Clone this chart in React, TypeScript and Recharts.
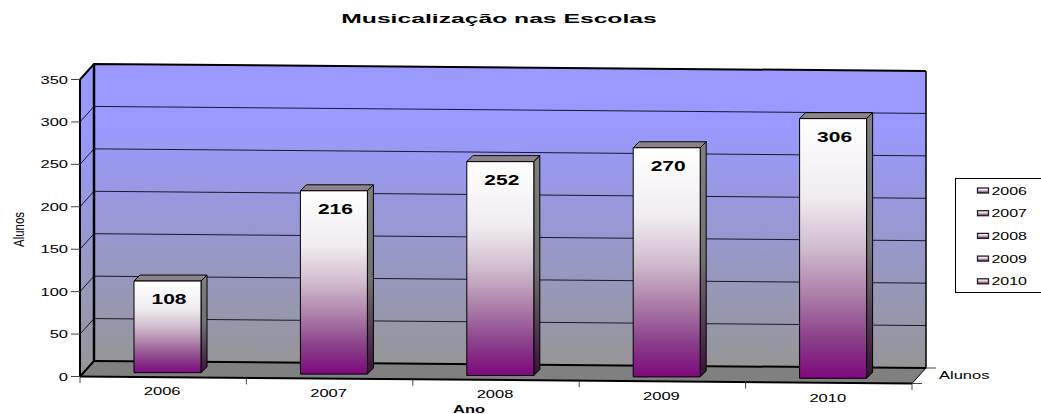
import React from "react";
import { BarChart, Bar, XAxis, YAxis, Legend, LabelList, Customized } from "recharts";

const categories = ["2006", "2007", "2008", "2009", "2010"];
const alunos = [108, 216, 252, 270, 306];
const yTicks = [0, 50, 100, 150, 200, 250, 300, 350];
const title = "Musicalização nas Escolas";
const xTitle = "Ano";
const yTitle = "Alunos";
const zLabel = "Alunos";

const data = categories.map((ano, i) => ({ ano, alunos: alunos[i] }));

const W = 1041, H = 414;
const L = 80, R = 912, T = 79.5, B = 376.5;
const DX = 14, DY = 15.5; // wall depth
const SK = 7 / 832; // perspective skew
const BAR_OFF = 4; // bars sit mid-floor
const BAR_D = 6;
const FONT = "'Liberation Sans', Arial, sans-serif";
const skew = (x: number) => (x - L) * SK;
const yOf = (v: number) => B - (v / 350) * (B - T);

const Stretched = ({ x, y, size, bold, sx = 1.5, anchor = "middle", children }: any) => (
  <text
    transform={`translate(${x},${y}) scale(${sx},1)`}
    textAnchor={anchor}
    fontFamily={FONT}
    fontSize={size}
    fontWeight={bold ? 700 : 400}
    fill="#000"
  >
    {children}
  </text>
);

const Defs = () => (
  <defs>
    <linearGradient id="wall" x1="0" y1="0" x2="0" y2="1">
      <stop offset="0" stopColor="#9999ff" />
      <stop offset="0.2" stopColor="#9999ff" />
      <stop offset="1" stopColor="#969696" />
    </linearGradient>
    <linearGradient id="face" x1="0" y1="0" x2="0" y2="1">
      <stop offset="0" stopColor="#ffffff" />
      <stop offset="0.3" stopColor="#f0ecf0" />
      <stop offset="0.5" stopColor="#d0bccc" />
      <stop offset="0.7" stopColor="#a877a5" />
      <stop offset="0.85" stopColor="#8a3f8a" />
      <stop offset="1" stopColor="#7e087e" />
    </linearGradient>
    <linearGradient id="side" x1="0" y1="0" x2="0" y2="1">
      <stop offset="0" stopColor="#808080" />
      <stop offset="0.5" stopColor="#707070" />
      <stop offset="1" stopColor="#3a103a" />
    </linearGradient>
    <linearGradient id="topf" x1="0" y1="0" x2="0" y2="1">
      <stop offset="0" stopColor="#8c8c8c" />
      <stop offset="0.6" stopColor="#8c8088" />
      <stop offset="1" stopColor="#9c7a9c" />
    </linearGradient>
  </defs>
);

const Walls = () => {
  const pts = (a: number[][]) => a.map((p) => p.join(",")).join(" ");
  const bl = [L + DX, B - DY];
  const tl = [L + DX, T - DY];
  const br = [R + DX, B - DY + (R - L) * SK];
  const tr = [R + DX, T - DY + (R - L) * SK];
  const fr = [R, B + (R - L) * SK];
  return (
    <g>
      <Defs />
      <polygon points={pts([bl, br, fr, [L, B]])} fill="#808080" />
      <polygon points={pts([[L, T], tl, bl, [L, B]])} fill="url(#wall)" />
      <polygon points={pts([tl, tr, br, bl])} fill="url(#wall)" />
      {yTicks.slice(1, -1).map((v) => {
        const y = yOf(v);
        return (
          <g key={v} stroke="#1a1a2a" strokeWidth={1} fill="none">
            <line x1={L} y1={y} x2={L + DX} y2={y - DY} />
            <line x1={L + DX} y1={y - DY} x2={R + DX} y2={y - DY + (R - L) * SK} />
          </g>
        );
      })}
      <g stroke="#000" fill="none">
        <polyline points={pts([[L, T], tl, tr])} strokeWidth={2} />
        <line x1={tr[0]} y1={tr[1]} x2={br[0]} y2={br[1]} strokeWidth={1.5} />
        <line x1={tl[0]} y1={tl[1]} x2={bl[0]} y2={bl[1]} strokeWidth={2.5} />
        <line x1={bl[0]} y1={bl[1]} x2={br[0]} y2={br[1]} strokeWidth={2} />
        <line x1={L} y1={B} x2={bl[0]} y2={bl[1]} strokeWidth={2} />
        <line x1={br[0]} y1={br[1]} x2={fr[0]} y2={fr[1]} strokeWidth={1} />
        <line x1={L} y1={B} x2={fr[0]} y2={fr[1]} strokeWidth={2} />
      </g>
      <g stroke="#444" strokeWidth={1}>
        {[0, 1, 2, 3, 4, 5].map((i) => {
          const x = L + (i * (R - L)) / 5;
          return <line key={i} x1={x} y1={B + skew(x)} x2={x} y2={B + skew(x) + 6.5} />;
        })}
        <line x1={fr[0]} y1={fr[1]} x2={fr[0] + 10} y2={fr[1]} />
        <line x1={br[0]} y1={br[1]} x2={br[0] + 10} y2={br[1]} />
      </g>
      <Stretched x={939} y={379} size={11} sx={1.5} anchor="start">{zLabel}</Stretched>
      <Stretched x={499} y={23} size={13} bold sx={1.9}>{title}</Stretched>
      <Stretched x={469} y={412.5} size={11} bold sx={1.5}>{xTitle}</Stretched>
      <text
        transform={`translate(24,229.5) rotate(-90) scale(1.04,1.35)`}
        textAnchor="middle"
        fontFamily={FONT}
        fontSize={11}
        fill="#000"
      >
        {yTitle}
      </text>
    </g>
  );
};

const Bar3D = (props: any) => {
  const { x, y, width: w, height: h } = props;
  const dy = skew(x + w / 2) - BAR_OFF - 0.5;
  const X = x + BAR_OFF;
  const Y = y + dy;
  const D = BAR_D;
  const pts = (a: number[][]) => a.map((p) => p.join(",")).join(" ");
  return (
    <g stroke="#000" strokeWidth={1} strokeLinejoin="round">
      <polygon points={pts([[X, Y], [X + D, Y - D], [X + w + D, Y - D], [X + w, Y]])} fill="url(#topf)" />
      <polygon points={pts([[X + w, Y], [X + w + D, Y - D], [X + w + D, Y + h - D], [X + w, Y + h]])} fill="url(#side)" />
      <rect x={X} y={Y} width={w} height={h} fill="url(#face)" />
    </g>
  );
};

const ValueLabel = (props: any) => {
  const { x, y, width: w, value } = props;
  const cx = x + w / 2;
  return (
    <Stretched x={cx + BAR_OFF + 1.5} y={y + skew(cx) - BAR_OFF + 22.5} size={14} bold sx={1.5}>
      {value}
    </Stretched>
  );
};

const XTick = (props: any) => {
  const { x, payload } = props;
  const cx = x - 1;
  return (
    <Stretched x={cx} y={395 + (cx - 162) * 0.0105} size={11}>
      {payload.value}
    </Stretched>
  );
};

const YTick = (props: any) => {
  const { x, y, payload } = props;
  return (
    <Stretched x={x + 0} y={y + 4} size={11} anchor="end">
      {payload.value}
    </Stretched>
  );
};

const LegendBox = () => (
  <svg width={86} height={115} style={{ display: "block" }}>
    <rect x={0.5} y={0.5} width={87} height={114} fill="#fff" stroke="#000" strokeWidth={1} />
    {categories.map((c, i) => {
      const cy = 12.5 + i * 22.7;
      return (
        <g key={c}>
          <rect x={22.5} y={cy - 2.5} width={11} height={5} fill="url(#face)" stroke="#222" strokeWidth={1.3} />
          <Stretched x={36.5} y={cy + 4} size={11} sx={1.45} anchor="start">{c}</Stretched>
        </g>
      );
    })}
  </svg>
);

export default function App() {
  return (
    <div style={{ position: "absolute", left: 0, top: 0, width: W, height: H, background: "#fff" }}>
      <BarChart
        width={W}
        height={H}
        data={data}
        barSize={67}
        margin={{ top: T, right: W - R, left: 0, bottom: 7.5 }}
      >
        <Customized component={Walls} />
        <XAxis dataKey="ano" height={30} axisLine={false} tickLine={false} tick={<XTick />} interval={0} />
        <YAxis
          width={L}
          domain={[0, 350]}
          ticks={yTicks}
          tick={<YTick />}
          tickSize={9}
          tickMargin={3}
          tickLine={{ stroke: "#444" }}
          axisLine={{ stroke: "#000", strokeWidth: 2 }}
        />
        <Legend
          content={<LegendBox />}
          layout="vertical"
          wrapperStyle={{ position: "absolute", left: 955, top: 178, width: 0, height: 0, bottom: "auto", overflow: "visible" }}
        />
        <Bar dataKey="alunos" isAnimationActive={false} shape={<Bar3D />}>
          <LabelList dataKey="alunos" content={<ValueLabel />} />
        </Bar>
      </BarChart>
    </div>
  );
}
